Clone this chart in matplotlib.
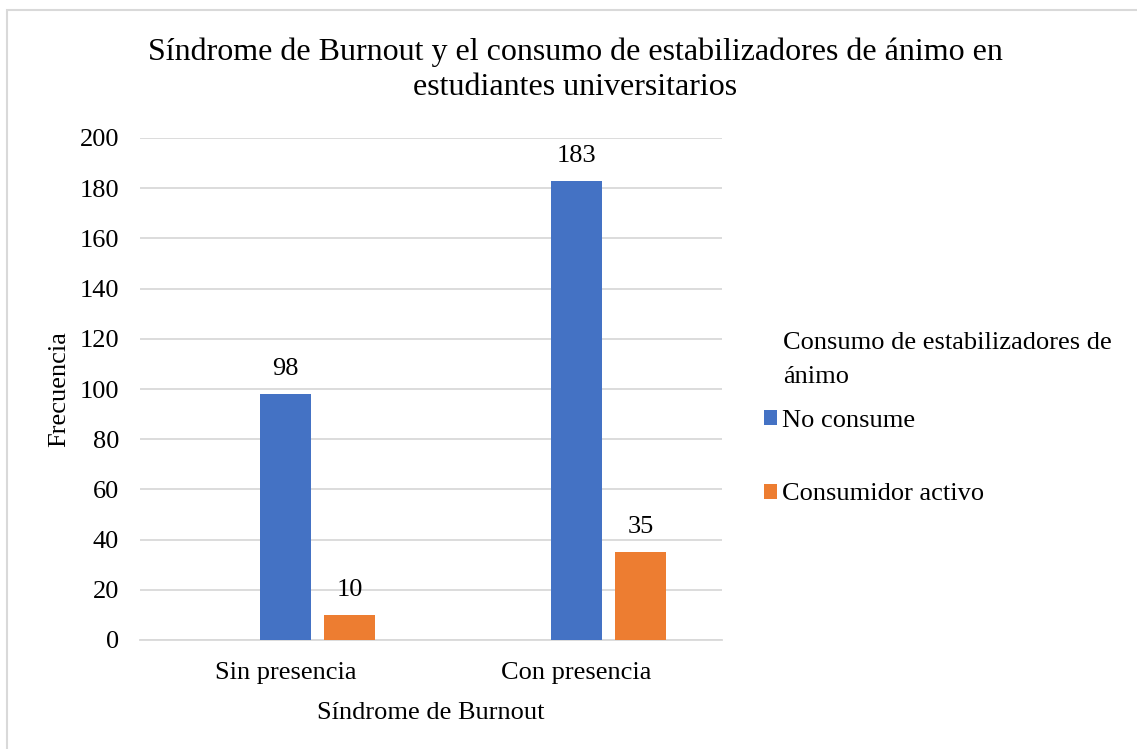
import matplotlib.pyplot as plt
from matplotlib.patches import Rectangle
import numpy as np

plt.rcParams['font.family'] = ['Liberation Serif', 'DejaVu Serif']

categories = ['Sin presencia', 'Con presencia']
series_names = ['No consume', 'Consumidor activo']
no_consume = [98, 183]
consumidor_activo = [10, 35]
colors = ['#4472C4', '#ED7D31']

fig = plt.figure(figsize=(11.37, 7.49), dpi=100)
ax = fig.add_axes([140 / 1137, 1 - 640 / 749, (722 - 140) / 1137, (640 - 138) / 749])

# light frame like the Excel chart area (only left/top visible)
fig.patches.append(Rectangle((7 / 1137, -0.1), 1.2, 1 - 10 / 749 + 0.1,
                             transform=fig.transFigure, fill=False,
                             edgecolor='#d9d9d9', linewidth=1.5))

x = np.arange(len(categories))
width = 0.172
step = 0.22
# Excel layout has an empty first slot, so the bars sit in slots 2 and 3
for i, (vals, name, c) in enumerate(zip([no_consume, consumidor_activo], series_names, colors)):
    pos = x + i * step
    bars = ax.bar(pos, vals, width, color=c, label=name, zorder=3)
    for b, v in zip(bars, vals):
        ax.annotate(str(v), (b.get_x() + b.get_width() / 2, v),
                    xytext=(0, 10), textcoords='offset points',
                    ha='center', va='bottom', fontsize=19)

ax.set_xlim(-0.5, 1.5)
ax.set_ylim(0, 200)
ax.set_yticks(range(0, 201, 20))
ax.set_xticks(x)
ax.set_xticklabels(categories)
ax.tick_params(axis='both', length=0, labelsize=19)
ax.tick_params(axis='y', pad=15)
ax.tick_params(axis='x', pad=16)
ax.grid(axis='y', color='#d9d9d9', linewidth=1.3, zorder=0)
for s in ['top', 'right', 'left']:
    ax.spines[s].set_visible(False)
ax.spines['bottom'].set_color('#d9d9d9')
ax.spines['bottom'].set_linewidth(1.3)

ax.set_xlabel('Síndrome de Burnout', fontsize=19, labelpad=13)
ax.set_ylabel('Frecuencia', fontsize=19, labelpad=7)

fig.text(575 / 1137, 1 - 70 / 749,
         'Síndrome de Burnout y el consumo de estabilizadores de ánimo en\nestudiantes universitarios',
         ha='center', va='center', fontsize=23, linespacing=1.28)

# legend title drawn as its own text (Excel-like spacing)
fig.text(783 / 1137, 1 - 360 / 749, 'Consumo de estabilizadores de\nánimo',
         ha='left', va='center', fontsize=19, linespacing=1.65)

leg = fig.legend(loc='upper left', bbox_to_anchor=(764 / 1137, 1 - 410 / 749),
                 fontsize=19, frameon=False, handlelength=0.5, handleheight=0.5,
                 handletextpad=0.2, labelspacing=1.95, borderpad=0, borderaxespad=0)

fig.savefig('out.png', dpi=100)
